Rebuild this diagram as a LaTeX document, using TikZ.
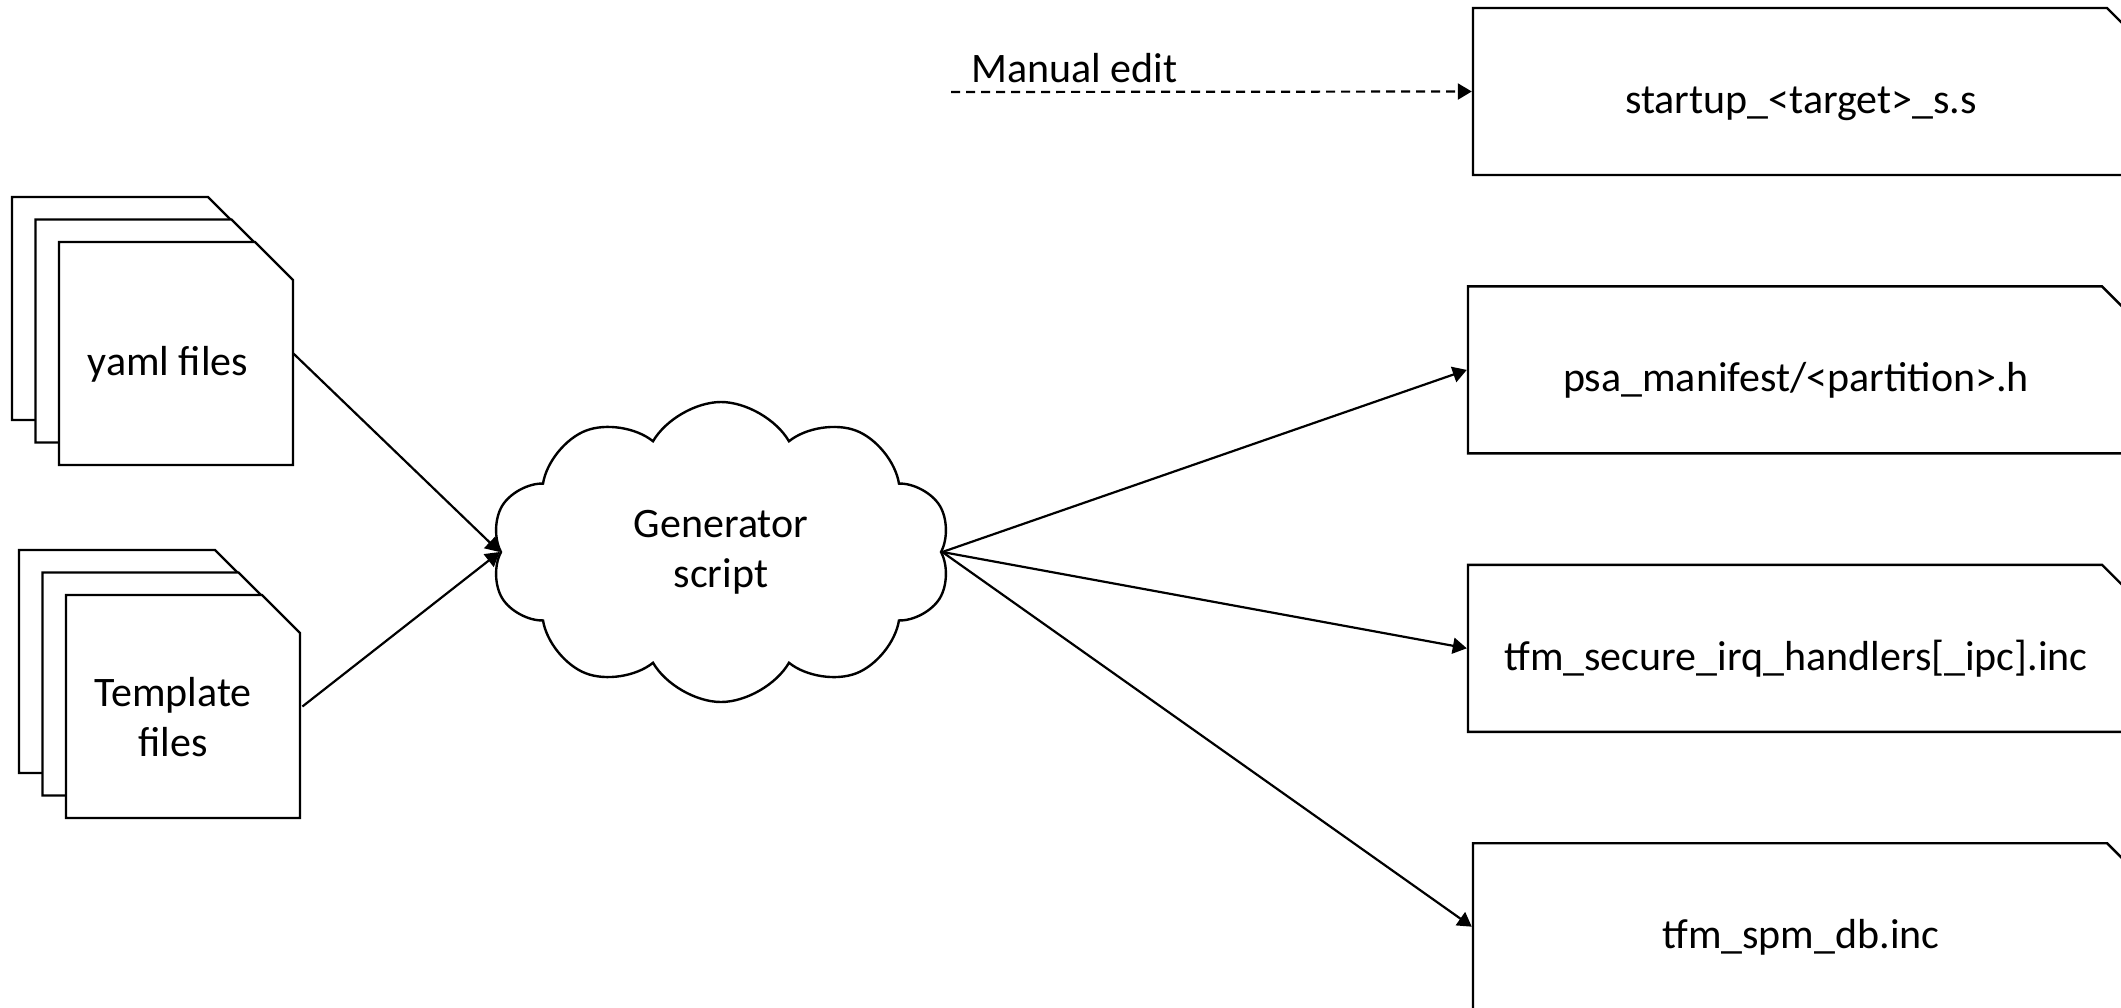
\documentclass[tikz,border=0pt]{standalone}
\usepackage{fontspec}
\setmainfont{Carlito}
\usetikzlibrary{shapes.misc, shapes.symbols, arrows.meta, positioning}

\begin{document}
\begin{tikzpicture}[
    x=0.5pt, y=-0.5pt,
    node distance=54.5pt,
    font=\fontsize{21}{25}\selectfont,
    docline/.style={draw, fill=white, line width=1.2pt},
    docpath/.style={insert path={-- ++(196,0) -- ++(38,38) -- ++(0,185) -- ++(-234,0) -- cycle}},
    docbox/.style={minimum height=111.5pt, inner sep=0pt, align=center, text height=22pt, text depth=0pt},
    outfile/.style={draw, fill=white, line width=1.2pt, chamfered rectangle, chamfered rectangle corners=north east, chamfered rectangle sep=5.5pt, minimum width=328pt, minimum height=83.5pt, align=center, text height=22pt, text depth=0pt},
    arrow/.style={-{Triangle[length=7pt,width=8pt]}, line width=1.1pt}
]
    \useasboundingbox (0,0) rectangle (2121,1007);
    \clip (0,0) rectangle (2121,1007);

    % stacked input files
    \foreach \s in {0,1,2} {
        \draw[docline, shift={({23.5*\s},{22.5*\s})}] (12,197) [docpath];
        \draw[docline, shift={({23.5*\s},{22.5*\s})}] (19,550) [docpath];
    }
    \node[docbox, minimum width=125pt] (yaml) at (168,353.5) {yaml files};
    \node[docbox, minimum width=129pt, text height=50pt] (template) at (173,706.5) {Template\\files};

    \node[cloud, draw, line width=1.2pt, cloud puffs=10, cloud puff arc=120, aspect=1.55, minimum width=230pt, minimum height=150pt, align=center] (gen) at (721,552) {Generator\\script};

    % generated files
    \node[outfile] (startup) at (1801,91.5) {startup\_<target>\_s.s};
    \node[outfile, below=of startup, xshift=-2.5pt] (manifest) {psa\_manifest/<partition>.h};
    \node[outfile, below=of manifest] (irq) {tfm\_secure\_irq\_handlers[\_ipc].inc};
    \node[outfile, below=of irq, xshift=2.5pt] (spmdb) {tfm\_spm\_db.inc};

    \coordinate (editstart) at (951,92);
    \node[anchor=base west, inner sep=0pt] (editlabel) at (971,82) {Manual edit};

    \draw[arrow] (yaml.east) -- (gen.west);
    \draw[arrow] (template.east) -- (gen.west);
    \draw[arrow, dash pattern=on 4.5pt off 3pt] (editstart) -- (startup.west);
    \draw[arrow] (gen.east) -- (manifest.west);
    \draw[arrow] (gen.east) -- (irq.west);
    \draw[arrow] (gen.east) -- (spmdb.west);
\end{tikzpicture}
\end{document}
